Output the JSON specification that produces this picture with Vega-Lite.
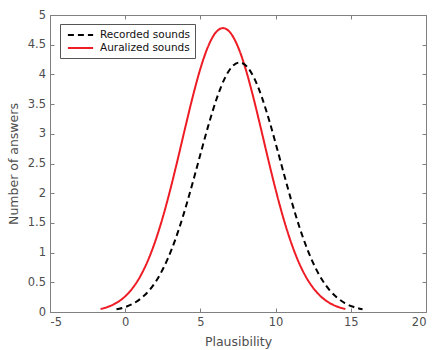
{
  "$schema": "https://vega.github.io/schema/vega-lite/v6.json",
  "autosize": "none",
  "width": 376,
  "height": 297,
  "padding": {"left": 50, "top": 15, "right": 10, "bottom": 38},
  "background": "white",
  "config": {
    "font": "DejaVu Sans",
    "view": {"stroke": "#808080", "strokeWidth": 1},
    "axis": {
      "grid": false,
      "domain": false,
      "tickColor": "#808080",
      "labelColor": "#4d4d4d",
      "titleColor": "#4d4d4d",
      "labelFont": "DejaVu Sans",
      "titleFont": "DejaVu Sans",
      "labelFontSize": 11.5,
      "titleFontSize": 12.5,
      "titleFontWeight": "normal",
      "tickSize": 4,
      "offset": -4,
      "labelExpr": "datum.value + ''"
    }
  },
  "data": {"values": [
    {"x": -1.64, "y": 0.05, "s": "Auralized sounds"},
    {"x": -1.5, "y": 0.059, "s": "Auralized sounds"},
    {"x": -1.0, "y": 0.101, "s": "Auralized sounds"},
    {"x": -0.5, "y": 0.166, "s": "Auralized sounds"},
    {"x": 0.0, "y": 0.263, "s": "Auralized sounds"},
    {"x": 0.5, "y": 0.405, "s": "Auralized sounds"},
    {"x": 1.0, "y": 0.6, "s": "Auralized sounds"},
    {"x": 1.5, "y": 0.86, "s": "Auralized sounds"},
    {"x": 2.0, "y": 1.192, "s": "Auralized sounds"},
    {"x": 2.5, "y": 1.595, "s": "Auralized sounds"},
    {"x": 3.0, "y": 2.063, "s": "Auralized sounds"},
    {"x": 3.5, "y": 2.578, "s": "Auralized sounds"},
    {"x": 4.0, "y": 3.114, "s": "Auralized sounds"},
    {"x": 4.5, "y": 3.633, "s": "Auralized sounds"},
    {"x": 5.0, "y": 4.097, "s": "Auralized sounds"},
    {"x": 5.5, "y": 4.463, "s": "Auralized sounds"},
    {"x": 6.0, "y": 4.699, "s": "Auralized sounds"},
    {"x": 6.5, "y": 4.78, "s": "Auralized sounds"},
    {"x": 7.0, "y": 4.699, "s": "Auralized sounds"},
    {"x": 7.5, "y": 4.463, "s": "Auralized sounds"},
    {"x": 8.0, "y": 4.097, "s": "Auralized sounds"},
    {"x": 8.5, "y": 3.633, "s": "Auralized sounds"},
    {"x": 9.0, "y": 3.114, "s": "Auralized sounds"},
    {"x": 9.5, "y": 2.578, "s": "Auralized sounds"},
    {"x": 10.0, "y": 2.063, "s": "Auralized sounds"},
    {"x": 10.5, "y": 1.595, "s": "Auralized sounds"},
    {"x": 11.0, "y": 1.192, "s": "Auralized sounds"},
    {"x": 11.5, "y": 0.86, "s": "Auralized sounds"},
    {"x": 12.0, "y": 0.6, "s": "Auralized sounds"},
    {"x": 12.5, "y": 0.405, "s": "Auralized sounds"},
    {"x": 13.0, "y": 0.263, "s": "Auralized sounds"},
    {"x": 13.5, "y": 0.166, "s": "Auralized sounds"},
    {"x": 14.0, "y": 0.101, "s": "Auralized sounds"},
    {"x": 14.5, "y": 0.059, "s": "Auralized sounds"},
    {"x": 14.64, "y": 0.05, "s": "Auralized sounds"},
    {"x": -0.58, "y": 0.045, "s": "Recorded sounds"},
    {"x": -0.4, "y": 0.055, "s": "Recorded sounds"},
    {"x": 0.1, "y": 0.092, "s": "Recorded sounds"},
    {"x": 0.6, "y": 0.151, "s": "Recorded sounds"},
    {"x": 1.1, "y": 0.239, "s": "Recorded sounds"},
    {"x": 1.6, "y": 0.365, "s": "Recorded sounds"},
    {"x": 2.1, "y": 0.539, "s": "Recorded sounds"},
    {"x": 2.6, "y": 0.77, "s": "Recorded sounds"},
    {"x": 3.1, "y": 1.063, "s": "Recorded sounds"},
    {"x": 3.6, "y": 1.418, "s": "Recorded sounds"},
    {"x": 4.1, "y": 1.83, "s": "Recorded sounds"},
    {"x": 4.6, "y": 2.281, "s": "Recorded sounds"},
    {"x": 5.1, "y": 2.749, "s": "Recorded sounds"},
    {"x": 5.6, "y": 3.202, "s": "Recorded sounds"},
    {"x": 6.1, "y": 3.605, "s": "Recorded sounds"},
    {"x": 6.6, "y": 3.924, "s": "Recorded sounds"},
    {"x": 7.1, "y": 4.129, "s": "Recorded sounds"},
    {"x": 7.6, "y": 4.2, "s": "Recorded sounds"},
    {"x": 8.1, "y": 4.129, "s": "Recorded sounds"},
    {"x": 8.6, "y": 3.924, "s": "Recorded sounds"},
    {"x": 9.1, "y": 3.605, "s": "Recorded sounds"},
    {"x": 9.6, "y": 3.202, "s": "Recorded sounds"},
    {"x": 10.1, "y": 2.749, "s": "Recorded sounds"},
    {"x": 10.6, "y": 2.281, "s": "Recorded sounds"},
    {"x": 11.1, "y": 1.83, "s": "Recorded sounds"},
    {"x": 11.6, "y": 1.418, "s": "Recorded sounds"},
    {"x": 12.1, "y": 1.063, "s": "Recorded sounds"},
    {"x": 12.6, "y": 0.77, "s": "Recorded sounds"},
    {"x": 13.1, "y": 0.539, "s": "Recorded sounds"},
    {"x": 13.6, "y": 0.365, "s": "Recorded sounds"},
    {"x": 14.1, "y": 0.239, "s": "Recorded sounds"},
    {"x": 14.6, "y": 0.151, "s": "Recorded sounds"},
    {"x": 15.1, "y": 0.092, "s": "Recorded sounds"},
    {"x": 15.6, "y": 0.055, "s": "Recorded sounds"},
    {"x": 15.78, "y": 0.045, "s": "Recorded sounds"}
  ]},
  "layer": [
    {
      "mark": {"type": "line", "strokeWidth": 2, "interpolate": "monotone"},
      "encoding": {
        "x": {"field": "x", "type": "quantitative", "scale": {"domain": [-5, 20], "nice": false, "zero": false},
              "axis": {"title": "Plausibility", "values": [-5, 0, 5, 10, 15, 20], "titlePadding": 8, "labelPadding": 4}},
        "y": {"field": "y", "type": "quantitative", "scale": {"domain": [0, 5], "nice": false},
              "axis": {"title": "Number of answers", "values": [0, 0.5, 1, 1.5, 2, 2.5, 3, 3.5, 4, 4.5, 5], "titlePadding": 7, "labelPadding": 4.5}},
        "color": {"field": "s", "type": "nominal",
                  "scale": {"domain": ["Recorded sounds", "Auralized sounds"], "range": ["#000000", "#ee1c25"]},
                  "legend": {"title": null, "orient": "none", "legendX": 10, "legendY": 9, "symbolType": "M-2.1,0H2.1", "symbolSize": 144,
                             "symbolStrokeWidth": 2, "labelFontSize": 10.5, "labelColor": "#111111", "labelFont": "DejaVu Sans",
                             "strokeColor": "#555555", "fillColor": "white", "padding": 4, "rowPadding": -1, "symbolOffset": 9.5, "labelOffset": 12.5, "labelLimit": 200}},
        "strokeDash": {"field": "s", "type": "nominal",
                       "scale": {"domain": ["Recorded sounds", "Auralized sounds"], "range": [[6, 4], [1, 0]]},
                       "legend": {"title": null}}
      }
    },
    {
      "mark": {"type": "line", "strokeOpacity": 0},
      "encoding": {
        "x": {"field": "x", "type": "quantitative", "scale": {"domain": [-5, 20], "nice": false, "zero": false},
              "axis": {"orient": "top", "title": null, "labels": false, "values": [-5, 0, 5, 10, 15, 20]}},
        "y": {"field": "y", "type": "quantitative", "scale": {"domain": [0, 5], "nice": false},
              "axis": {"orient": "right", "title": null, "labels": false, "values": [0, 0.5, 1, 1.5, 2, 2.5, 3, 3.5, 4, 4.5, 5]}},
        "detail": {"field": "s", "type": "nominal"}
      }
    }
  ],
  "resolve": {"axis": {"x": "independent", "y": "independent"}}
}
